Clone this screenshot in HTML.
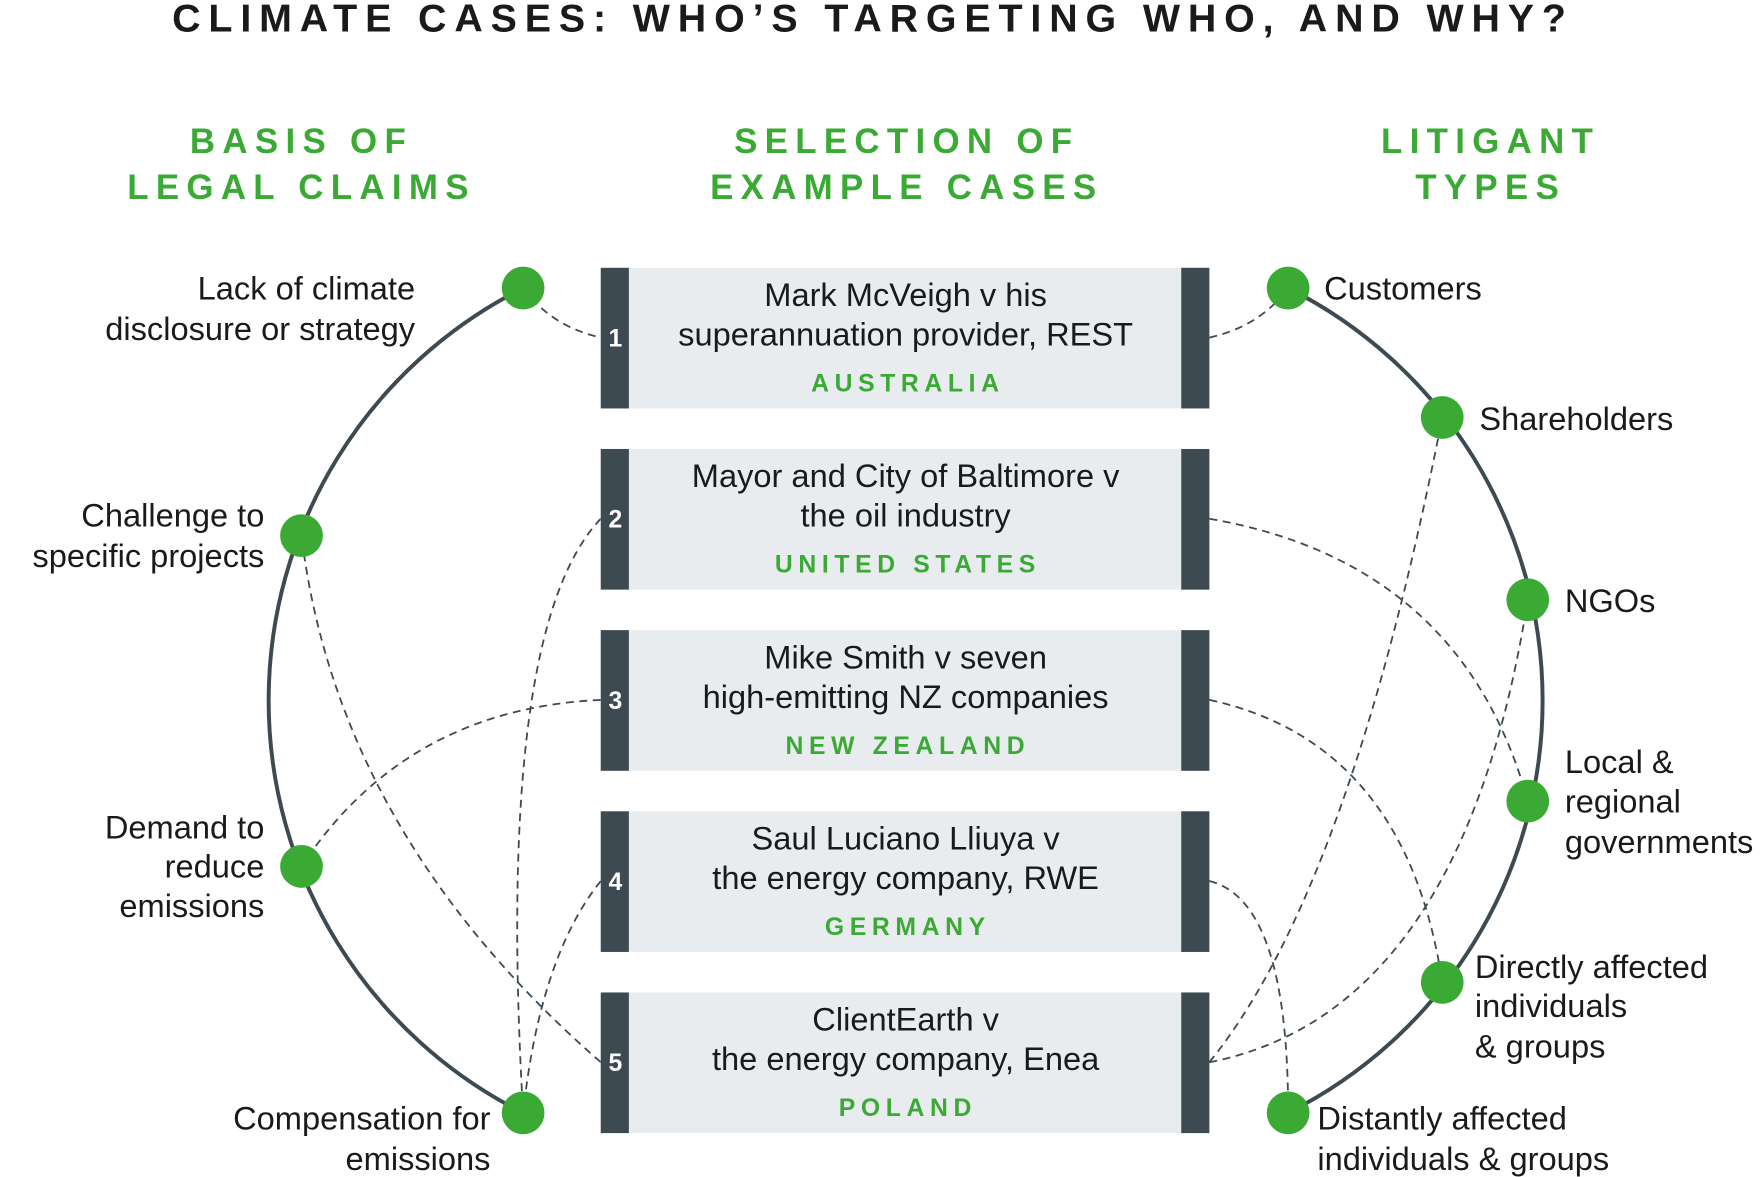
<!DOCTYPE html>
<html><head><meta charset="utf-8"><style>
html,body{margin:0;padding:0;background:#fff;}
svg{display:block;}
text{font-family:"Liberation Sans",sans-serif;}
.t{font-size:29px;fill:#1a1a1a;}
.h{font-size:31px;font-weight:bold;fill:#3aaa35;letter-spacing:6.5px;text-anchor:middle;}
.c{font-size:22px;font-weight:bold;fill:#3aaa35;letter-spacing:5px;text-anchor:middle;}
.n{font-size:22px;font-weight:bold;fill:#fff;text-anchor:middle;}
.d{fill:none;stroke:#3d4a52;stroke-width:1.6;stroke-dasharray:7 5;}
</style></head><body>
<svg width="1764" height="1177" viewBox="0 0 1568 1046" preserveAspectRatio="none">
<text x="776" y="28" text-anchor="middle" style="font-size:35px;letter-spacing:7px;fill:#1a1a1a;font-weight:bold">CLIMATE CASES: WHO’S TARGETING WHO, AND WHY?</text>
<text class="h" x="268" y="136">BASIS OF</text>
<text class="h" x="268" y="177">LEGAL CLAIMS</text>
<text class="h" x="806" y="136">SELECTION OF</text>
<text class="h" x="806" y="177">EXAMPLE CASES</text>
<text class="h" x="1325" y="136">LITIGANT</text>
<text class="h" x="1325" y="177">TYPES</text>

<path d="M465,256 A410,410 0 0 0 465,989" fill="none" stroke="#3d4a52" stroke-width="3.5"/>
<path d="M1145,256 A410,410 0 0 1 1145,989" fill="none" stroke="#3d4a52" stroke-width="3.5"/>

<path class="d" d="M465,256 Q490,290 534,300"/>
<path class="d" d="M534,461 Q440,560 465,989"/>
<path class="d" d="M534,622 Q360,630 268,770"/>
<path class="d" d="M534,783 Q480,850 465,989"/>
<path class="d" d="M534,944 Q300,740 268,476"/>
<path class="d" d="M1075,300 Q1120,290 1145,256"/>
<path class="d" d="M1075,461 Q1300,500 1358,712"/>
<path class="d" d="M1075,622 Q1250,660 1282,873"/>
<path class="d" d="M1075,783 Q1145,800 1145,989"/>
<path class="d" d="M1075,944 Q1200,790 1282,371"/>
<path class="d" d="M1075,944 Q1300,900 1358,533"/>

<g>
<rect x="534" y="238" width="541" height="125" fill="#e9ecef"/><rect x="534" y="238" width="25" height="125" fill="#3d4a52"/><rect x="1050" y="238" width="25" height="125" fill="#3d4a52"/>
<text class="n" x="547" y="308">1</text>
<text class="t" x="805" y="272" text-anchor="middle">Mark McVeigh v his</text>
<text class="t" x="805" y="307" text-anchor="middle">superannuation provider, REST</text>
<text class="c" x="807" y="348">AUSTRALIA</text>
</g>
<g transform="translate(0,161)">
<rect x="534" y="238" width="541" height="125" fill="#e9ecef"/><rect x="534" y="238" width="25" height="125" fill="#3d4a52"/><rect x="1050" y="238" width="25" height="125" fill="#3d4a52"/>
<text class="n" x="547" y="308">2</text>
<text class="t" x="805" y="272" text-anchor="middle">Mayor and City of Baltimore v</text>
<text class="t" x="805" y="307" text-anchor="middle">the oil industry</text>
<text class="c" x="807" y="348">UNITED STATES</text>
</g>
<g transform="translate(0,322)">
<rect x="534" y="238" width="541" height="125" fill="#e9ecef"/><rect x="534" y="238" width="25" height="125" fill="#3d4a52"/><rect x="1050" y="238" width="25" height="125" fill="#3d4a52"/>
<text class="n" x="547" y="308">3</text>
<text class="t" x="805" y="272" text-anchor="middle">Mike Smith v seven</text>
<text class="t" x="805" y="307" text-anchor="middle">high-emitting NZ companies</text>
<text class="c" x="807" y="348">NEW ZEALAND</text>
</g>
<g transform="translate(0,483)">
<rect x="534" y="238" width="541" height="125" fill="#e9ecef"/><rect x="534" y="238" width="25" height="125" fill="#3d4a52"/><rect x="1050" y="238" width="25" height="125" fill="#3d4a52"/>
<text class="n" x="547" y="308">4</text>
<text class="t" x="805" y="272" text-anchor="middle">Saul Luciano Lliuya v</text>
<text class="t" x="805" y="307" text-anchor="middle">the energy company, RWE</text>
<text class="c" x="807" y="348">GERMANY</text>
</g>
<g transform="translate(0,644)">
<rect x="534" y="238" width="541" height="125" fill="#e9ecef"/><rect x="534" y="238" width="25" height="125" fill="#3d4a52"/><rect x="1050" y="238" width="25" height="125" fill="#3d4a52"/>
<text class="n" x="547" y="308">5</text>
<text class="t" x="805" y="272" text-anchor="middle">ClientEarth v</text>
<text class="t" x="805" y="307" text-anchor="middle">the energy company, Enea</text>
<text class="c" x="807" y="348">POLAND</text>
</g>

<g fill="#3aaa35">
<circle cx="465" cy="256" r="19"/><circle cx="268" cy="476" r="19"/><circle cx="268" cy="770" r="19"/><circle cx="465" cy="989" r="19"/>
<circle cx="1145" cy="256" r="19"/><circle cx="1282" cy="371" r="19"/><circle cx="1358" cy="533" r="19"/><circle cx="1358" cy="712" r="19"/><circle cx="1282" cy="873" r="19"/><circle cx="1145" cy="989" r="19"/>
</g>

<text class="t" x="369" y="266" text-anchor="end">Lack of climate</text>
<text class="t" x="369" y="302" text-anchor="end">disclosure or strategy</text>
<text class="t" x="235" y="468" text-anchor="end">Challenge to</text>
<text class="t" x="235" y="504" text-anchor="end">specific projects</text>
<text class="t" x="235" y="745" text-anchor="end">Demand to</text>
<text class="t" x="235" y="780" text-anchor="end">reduce</text>
<text class="t" x="235" y="815" text-anchor="end">emissions</text>
<text class="t" x="436" y="1004" text-anchor="end">Compensation for</text>
<text class="t" x="436" y="1040" text-anchor="end">emissions</text>

<text class="t" x="1177" y="266">Customers</text>
<text class="t" x="1315" y="382">Shareholders</text>
<text class="t" x="1391" y="544">NGOs</text>
<text class="t" x="1391" y="687">Local &amp;</text>
<text class="t" x="1391" y="722">regional</text>
<text class="t" x="1391" y="758">governments</text>
<text class="t" x="1311" y="869">Directly affected</text>
<text class="t" x="1311" y="904">individuals</text>
<text class="t" x="1311" y="940">&amp; groups</text>
<text class="t" x="1171" y="1004">Distantly affected</text>
<text class="t" x="1171" y="1040">individuals &amp; groups</text>
</svg>
</body></html>
